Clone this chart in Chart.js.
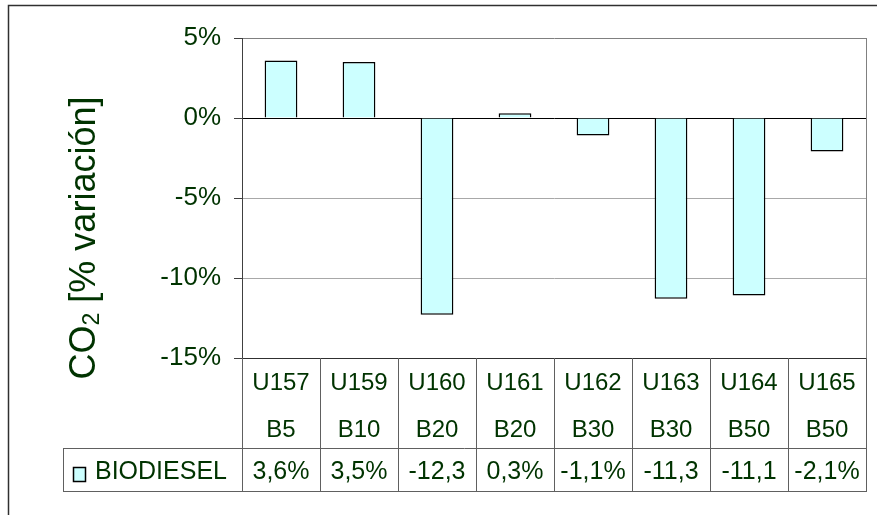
<!DOCTYPE html>
<html><head><meta charset="utf-8">
<script src="https://cdn.jsdelivr.net/npm/chart.js@4/dist/chart.umd.min.js"></script>
<style>html,body{margin:0;padding:0;background:#fff;overflow:hidden}</style>
</head><body>
<canvas id="c" width="877" height="515"></canvas>
<script>
const categories = ['U157','U159','U160','U161','U162','U163','U164','U165'];
const blends = ['B5','B10','B20','B20','B30','B30','B50','B50'];
const seriesName = 'BIODIESEL';
const biodiesel = [3.6, 3.5, -12.3, 0.3, -1.1, -11.3, -11.1, -2.1];
const yMin = -15, yMax = 5, yStep = 5;
const titleMain = 'CO', titleSub = '2', titleRest = ' [% variación]';

const FONT = '"Liberation Sans", Arial, sans-serif';
const TXT = '#003300';
const FILL = '#CCFFFF';

function fmt(v){ return v.toFixed(1).replace('.', ',') + '%'; }

const tablePlugin = {
  id: 'tablePlugin',
  beforeDraw(chart){
    const ctx = chart.ctx;
    ctx.save();
    ctx.fillStyle = '#fff';
    ctx.fillRect(0, 0, chart.width, chart.height);
    ctx.strokeStyle = '#303030';
    ctx.lineWidth = 1.5;
    ctx.strokeRect(8.5, 5.5, chart.width + 20, chart.height + 20);
    ctx.restore();
  },
  afterDatasetsDraw(chart){
    const ctx = chart.ctx, a = chart.chartArea;
    ctx.save();
    ctx.strokeStyle = '#808080';
    ctx.lineWidth = 1;
    ctx.beginPath();
    ctx.moveTo(Math.round(a.right) + 0.5, a.top);
    ctx.lineTo(Math.round(a.right) + 0.5, a.bottom);
    ctx.stroke();
    ctx.restore();
  },
  afterDraw(chart){
    const ctx = chart.ctx, a = chart.chartArea, xs = chart.scales.x;
    const n = categories.length;
    const step = xs.getPixelForValue(1) - xs.getPixelForValue(0);
    const top = Math.round(a.bottom), mid = top + 90, bot = mid + 43;
    const legL = 63;
    ctx.save();
    ctx.strokeStyle = '#606060';
    ctx.lineWidth = 1;
    ctx.beginPath();
    for (let i = 0; i <= n; i++) {
      const px = Math.round(xs.getPixelForValue(i) - step / 2) + 0.5;
      ctx.moveTo(px, top); ctx.lineTo(px, bot);
    }
    ctx.moveTo(legL + 0.5, mid); ctx.lineTo(legL + 0.5, bot);
    ctx.moveTo(legL, mid + 0.5); ctx.lineTo(a.right, mid + 0.5);
    ctx.moveTo(legL, bot + 0.5); ctx.lineTo(a.right + 1, bot + 0.5);
    ctx.stroke();
    ctx.fillStyle = TXT;
    ctx.textAlign = 'center';
    ctx.textBaseline = 'middle';
    for (let i = 0; i < n; i++) {
      const cx = xs.getPixelForValue(i);
      ctx.font = '24px ' + FONT;
      ctx.fillText(categories[i], cx, top + 25);
      ctx.fillText(blends[i], cx, top + 72);
      ctx.font = '25px ' + FONT;
      let s = fmt(biodiesel[i]);
      if (ctx.measureText(s).width > step - 6) s = s.replace('%', '');
      ctx.fillText(s, cx, mid + 24);
    }
    ctx.fillStyle = FILL;
    ctx.fillRect(73.5, mid + 19.5, 12, 14);
    ctx.strokeStyle = '#000';
    ctx.lineWidth = 1.5;
    ctx.strokeRect(73.5, mid + 19.5, 12, 14);
    ctx.fillStyle = TXT;
    ctx.textAlign = 'left';
    ctx.font = '25px ' + FONT;
    ctx.fillText(seriesName, 95, mid + 24);
    ctx.save();
    ctx.translate(95, 238);
    ctx.rotate(-Math.PI / 2);
    ctx.textBaseline = 'alphabetic';
    ctx.textAlign = 'left';
    const fMain = '36px ' + FONT, fSub = '23px ' + FONT;
    ctx.font = fMain; const w1 = ctx.measureText(titleMain).width;
    ctx.font = fSub; const w2 = ctx.measureText(titleSub).width;
    ctx.font = fMain; const w3 = ctx.measureText(titleRest).width;
    let x0 = -(w1 + w2 + w3) / 2;
    ctx.font = fMain; ctx.fillText(titleMain, x0, 0); x0 += w1;
    ctx.font = fSub; ctx.fillText(titleSub, x0, 4); x0 += w2;
    ctx.font = fMain; ctx.fillText(titleRest, x0, 0);
    ctx.restore();
    ctx.restore();
  }
};

new Chart(document.getElementById('c'), {
  type: 'bar',
  data: {
    labels: categories,
    datasets: [{
      label: seriesName,
      data: biodiesel,
      backgroundColor: FILL,
      borderColor: '#000',
      borderWidth: 1.5,
      categoryPercentage: 1,
      barPercentage: 0.42
    }]
  },
  options: {
    responsive: false,
    animation: false,
    events: [],
    layout: { padding: { left: 0, top: 38, right: 11, bottom: 157 } },
    plugins: { legend: { display: false }, tooltip: { enabled: false }, title: { display: false } },
    scales: {
      x: { display: false, offset: true },
      y: {
        min: yMin, max: yMax,
        afterFit(scale){ scale.width = 242; },
        ticks: {
          stepSize: yStep,
          color: TXT,
          font: { family: FONT, size: 26 },
          padding: 13,
          callback: v => v + '%'
        },
        grid: {
          color: c => c.tick.value === 0 ? '#000' : (c.tick.value === yMin ? '#303030' : (c.tick.value === yMax ? '#808080' : '#a8a8a8')),
          lineWidth: 1,
          tickLength: 8,
          tickColor: '#404040'
        },
        border: { display: true, color: '#404040', width: 1 }
      }
    }
  },
  plugins: [tablePlugin]
});
</script>
</body></html>
